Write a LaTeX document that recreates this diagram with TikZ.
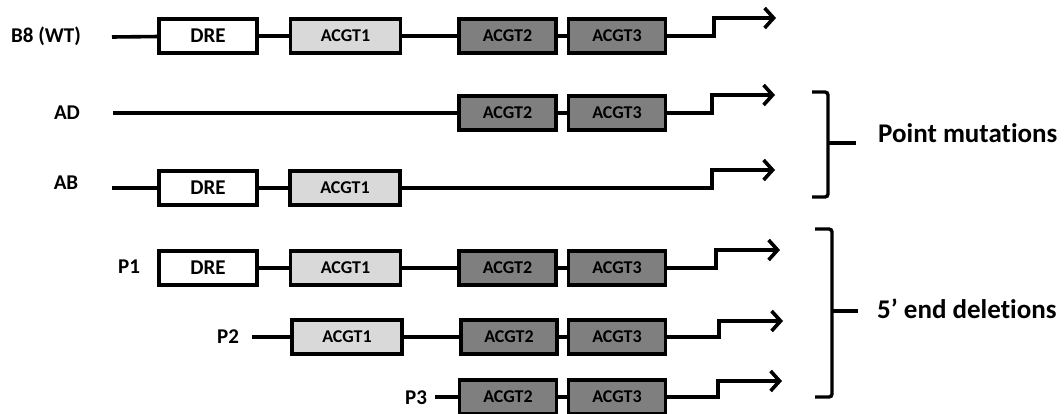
\documentclass[tikz,border=0pt]{standalone}
\usepackage{fontspec}
\setmainfont{Carlito}[Ligatures={NoCommon}]
\usetikzlibrary{arrows.meta}
\definecolor{lgray}{HTML}{D9D9D9}
\definecolor{dgray}{HTML}{7F7F7F}
\begin{document}
\begin{tikzpicture}[x=1pt,y=-1pt,
 box/.style={draw, line width=3.3pt, minimum height=34pt, inner sep=0pt, font=\bfseries\fontsize{18}{18}\selectfont},
 dre/.style={box, fill=white, minimum width=98pt, font=\bfseries\fontsize{21}{21}\selectfont},
 aone/.style={box, fill=lgray, minimum width=110pt},
 atwo/.style={box, fill=dgray, minimum width=97pt},
 lbl/.style={font=\bfseries\fontsize{21}{21}\selectfont, inner sep=0pt},
 big/.style={font=\bfseries\fontsize{27}{27}\selectfont, inner sep=0pt, anchor=base west},
 wire/.style={line width=3.6pt},
 arr/.style={line width=3.6pt, -{Straight Barb[length=9pt,width=20pt]}},
 brace/.style={line width=3.4pt, rounded corners=3pt}]
\useasboundingbox (0,0) rectangle (1064,414);
% Row B8
\node[lbl] (lb8) at (46,36) {B8 (WT)};
\coordinate (s1) at (112,37);
\node[dre] (d1) at (208,36) {DRE};
\node[aone] (c11) at (345.5,36) {ACGT1};
\node[atwo] (c21) at (507.5,36) {ACGT2};
\node[atwo] (c31) at (617,36) {ACGT3};
\coordinate (k1) at (714,36); \coordinate (t1) at (776,18);
\draw[wire] (s1) -- (d1) (d1) -- (c11) (c11) -- (c21) (c21) -- (c31);
\draw[arr] (c31) -- (k1) |- (t1);
% Row AD
\node[lbl] (lad) at (67,113) {AD};
\coordinate (s2) at (113,113);
\node[atwo] (c22) at (507.5,113) {ACGT2};
\node[atwo] (c32) at (617,113) {ACGT3};
\coordinate (k2) at (712,113); \coordinate (t2) at (775,95);
\draw[wire] (s2) -- (c22) (c22) -- (c32);
\draw[arr] (c32) -- (k2) |- (t2);
% Row AB
\node[lbl] (lab) at (66,183) {AB};
\coordinate (s3) at (112,188);
\node[dre] (d3) at (208,188) {DRE};
\node[aone] (c13) at (345,188) {ACGT1};
\coordinate (k3) at (712,188); \coordinate (t3) at (775,170);
\draw[wire] (s3) -- (d3) (d3) -- (c13);
\draw[arr] (c13) -- (k3) |- (t3);
% Row P1
\node[lbl] (lp1) at (129,267) {P1};
\node[dre] (d4) at (208,268) {DRE};
\node[aone] (c14) at (345.5,268) {ACGT1};
\node[atwo] (c24) at (507.5,268) {ACGT2};
\node[atwo] (c34) at (617,268) {ACGT3};
\coordinate (k4) at (716,268); \coordinate (t4) at (780,250);
\draw[wire] (d4) -- (c14) (c14) -- (c24) (c24) -- (c34);
\draw[arr] (c34) -- (k4) |- (t4);
% Row P2
\node[lbl] (lp2) at (228,337) {P2};
\coordinate (s5) at (252,337);
\node[aone] (c15) at (347,337) {ACGT1};
\node[atwo, minimum width=96pt] (c25) at (509,337) {ACGT2};
\node[atwo] (c35) at (617,337) {ACGT3};
\coordinate (k5) at (719,337); \coordinate (t5) at (783,321);
\draw[wire] (s5) -- (c15) (c15) -- (c25) (c25) -- (c35);
\draw[arr] (c35) -- (k5) |- (t5);
% Row P3
\node[lbl] (lp3) at (416,398) {P3};
\coordinate (s6) at (435,397);
\node[atwo] (c26) at (508,397) {ACGT2};
\node[atwo] (c36) at (617,397) {ACGT3};
\coordinate (k6) at (718,397); \coordinate (t6) at (782,381);
\draw[wire] (s6) -- (c26) (c26) -- (c36);
\draw[arr] (c36) -- (k6) |- (t6);
% Braces
\draw[brace] (812,92) -- (828,92) -- (828,197) -- (812,197);
\coordinate (m1) at (828,143);
\node[big] (pm) at (878,143) {Point mutations};
\draw[wire] (m1) -- (856,143);
\draw[brace] (815,229) -- (832,229) -- (832,397) -- (815,397);
\coordinate (m2) at (832,311);
\node[big] (ed) at (877,318) {5’ end deletions};
\draw[wire] (m2) -- (858,311);
\end{tikzpicture}
\end{document}
